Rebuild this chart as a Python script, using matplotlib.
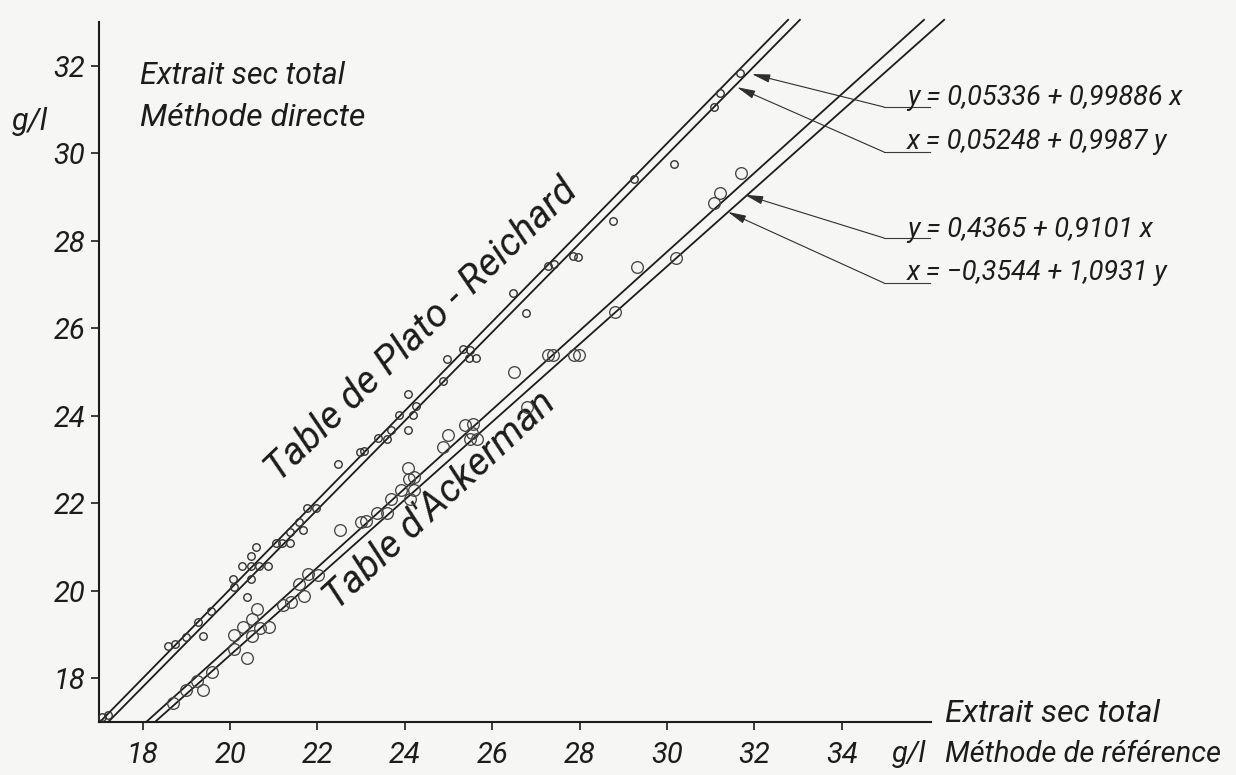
import matplotlib
matplotlib.use("Agg")
import matplotlib.pyplot as plt
from matplotlib import font_manager as fm

# ---------------- data ----------------
plato_x = [17.07, 17.21, 18.58, 18.74, 18.99, 19.27, 19.38, 19.56, 20.07, 20.09,
           20.39, 20.27, 20.48, 20.66, 20.87, 20.48, 20.59, 20.48, 21.05, 21.19,
           21.37, 21.37, 21.58, 21.67, 21.76, 21.97, 22.47, 22.97, 23.06, 23.38,
           23.59, 23.68, 23.86, 24.07, 24.07, 24.19, 24.25, 24.87, 24.96, 25.33,
           25.49, 25.47, 25.63, 26.47, 26.77, 27.27, 27.41, 27.85, 27.96, 28.76,
           29.24, 30.16, 31.07, 31.21, 31.67]
plato_y = [17.11, 17.16, 18.74, 18.78, 18.94, 19.29, 18.97, 19.54, 20.27, 20.09,
           19.86, 20.57, 20.57, 20.57, 20.57, 20.79, 21.00, 20.27, 21.09, 21.09,
           21.09, 21.34, 21.57, 21.39, 21.89, 21.89, 22.90, 23.17, 23.19, 23.49,
           23.47, 23.67, 24.02, 24.50, 23.67, 24.02, 24.22, 24.79, 25.30, 25.53,
           25.50, 25.32, 25.32, 26.81, 26.35, 27.42, 27.47, 27.65, 27.63, 28.45,
           29.41, 29.75, 31.06, 31.38, 31.83]

acker_x = [18.69, 18.99, 19.24, 19.38, 19.59, 20.39, 20.09, 20.09, 20.30, 20.50,
           20.62, 20.50, 20.68, 20.89, 21.21, 21.39, 21.69, 21.58, 21.78, 22.01,
           22.51, 23.00, 23.11, 23.36, 23.59, 23.68, 23.91, 24.07, 24.09, 24.21,
           24.21, 24.12, 24.87, 24.99, 25.38, 25.56, 25.54, 25.49, 25.65, 26.50,
           26.79, 27.27, 27.39, 27.87, 27.98, 28.81, 29.31, 30.20, 31.07, 31.21,
           31.69]
acker_y = [17.43, 17.73, 17.94, 17.73, 18.14, 18.46, 18.67, 18.99, 19.17, 19.35,
           19.58, 18.97, 19.15, 19.17, 19.67, 19.74, 19.88, 20.15, 20.38, 20.36,
           21.39, 21.57, 21.59, 21.78, 21.78, 22.10, 22.30, 22.81, 22.55, 22.60,
           22.30, 22.10, 23.29, 23.56, 23.79, 23.81, 23.61, 23.47, 23.47, 25.00,
           24.20, 25.39, 25.39, 25.39, 25.39, 26.37, 27.40, 27.61, 28.86, 29.09,
           29.55]

# regression lines as drawn: (x_start, x_end), (y_start, y_end)
plato_line_1 = ([17.02, 32.77], [17.0, 33.05])
plato_line_2 = ([17.21, 33.04], [17.0, 33.05])
acker_line_1 = ([18.08, 35.88], [17.0, 33.05])
acker_line_2 = ([18.28, 36.34], [17.0, 33.05])

equations = ["y = 0,05336 + 0,99886 x",
             "x = 0,05248 + 0,9987 y",
             "y = 0,4365 + 0,9101 x",
             "x = \u22120,3544 + 1,0931 y"]
# arrow tips on the lines (data units)
eq_tip_x = [31.94, 31.60, 31.78, 31.39]
eq_tip_y = [31.81, 31.51, 29.05, 28.66]

x_ticks = [18, 20, 22, 24, 26, 28, 30, 32, 34]
y_ticks = [18, 20, 22, 24, 26, 28, 30, 32]


# ---------------- font ----------------
def pick_font(cands):
    for c in cands:
        try:
            fm.findfont(fm.FontProperties(family=c, style="italic"),
                        fallback_to_default=False)
            return c
        except Exception:
            pass
    return "DejaVu Sans"


FONT = [pick_font(["Roboto", "Liberation Sans", "Lato"]), "DejaVu Sans"]
INK = "#1c1c1c"
BG = "#f6f6f4"
W, H = 1236, 775

fig = plt.figure(figsize=(W / 100, H / 100), dpi=100, facecolor=BG)
ax = fig.add_axes([99 / W, 53 / H, 832 / W, 700 / H])
ax.set_facecolor(BG)
ax.set_xlim(17, 36.04)
ax.set_ylim(17, 33.0)

for s in ["top", "right"]:
    ax.spines[s].set_visible(False)
for s in ["left", "bottom"]:
    ax.spines[s].set_linewidth(1.5)
    ax.spines[s].set_color(INK)

ax.set_xticks(x_ticks)
ax.set_yticks(y_ticks)
ax.set_xticklabels([str(v) for v in x_ticks])
ax.set_yticklabels([str(v) for v in y_ticks])
ax.tick_params(axis="both", direction="out", length=6, width=1.2, color=INK,
               labelcolor=INK)
ax.tick_params(axis="x", pad=8)
ax.tick_params(axis="y", pad=4)
for lab in ax.get_xticklabels() + ax.get_yticklabels():
    lab.set_family(FONT)
    lab.set_style("italic")
    lab.set_fontsize(21)

# regression lines
for lx, ly in [plato_line_1, plato_line_2, acker_line_1, acker_line_2]:
    ax.plot(lx, ly, color=INK, lw=1.3, clip_on=False, zorder=3)

# points
ax.plot(plato_x, plato_y, "o", mfc="none", mec="#333333", mew=1.0, ms=5.4,
        clip_on=False, zorder=4)
ax.plot(acker_x, acker_y, "o", mfc="none", mec="#454545", mew=0.95, ms=8.4,
        clip_on=False, zorder=4)

# rotated labels
ax.text(24.40, 25.95, "Table de Plato - Reichard", rotation=44,
        rotation_mode="anchor", ha="center", va="center", family=FONT,
        style="italic", fontsize=28, color=INK)
ax.text(24.80, 22.07, "Table d'Ackerman", rotation=43,
        rotation_mode="anchor", ha="center", va="center", family=FONT,
        style="italic", fontsize=28, color=INK)


# equations with leader lines and arrows
def px2data(px, py):
    return (17 + (px - 99) / 43.7, 17 + (722 - py) / 43.75)


eq_text_y = [98, 142, 230, 273]
elbow_y = [107, 152, 238, 283]
for i, eq in enumerate(equations):
    ex, ey = px2data(884, elbow_y[i])
    ux, _ = px2data(930, elbow_y[i])
    ax.annotate("", xy=(eq_tip_x[i], eq_tip_y[i]), xytext=(ex, ey),
                arrowprops=dict(arrowstyle="-|>,head_length=1.1,head_width=0.25",
                                color="#2e2e2e", lw=0.8, shrinkA=0, shrinkB=0),
                annotation_clip=False, zorder=5)
    ax.plot([ex, ux], [ey, ey], color="#3a3a3a", lw=0.8, clip_on=False)
    fig.text(907 / W, 1 - eq_text_y[i] / H, eq, ha="left", va="center",
             family=FONT, style="italic", fontsize=19.5, color=INK)

# axis titles
fig.text(140 / W, 1 - 75 / H, "Extrait sec total", ha="left", va="center",
         family=FONT, style="italic", fontsize=22, color=INK)
fig.text(140 / W, 1 - 118 / H, "M\u00e9thode directe", ha="left", va="center",
         family=FONT, style="italic", fontsize=23, color=INK)
fig.text(30 / W, 1 - 121 / H, "g/l", ha="center", va="center",
         family=FONT, style="italic", fontsize=22, color=INK)

fig.text(945 / W, 1 - 713 / H, "Extrait sec total", ha="left", va="center",
         family=FONT, style="italic", fontsize=23, color=INK)
fig.text(945 / W, 1 - 754 / H, "M\u00e9thode de r\u00e9f\u00e9rence", ha="left",
         va="center", family=FONT, style="italic", fontsize=21, color=INK)
fig.text(909 / W, 1 - 754 / H, "g/l", ha="center", va="center",
         family=FONT, style="italic", fontsize=21, color=INK)

fig.savefig("out.png", dpi=100, facecolor=BG)
